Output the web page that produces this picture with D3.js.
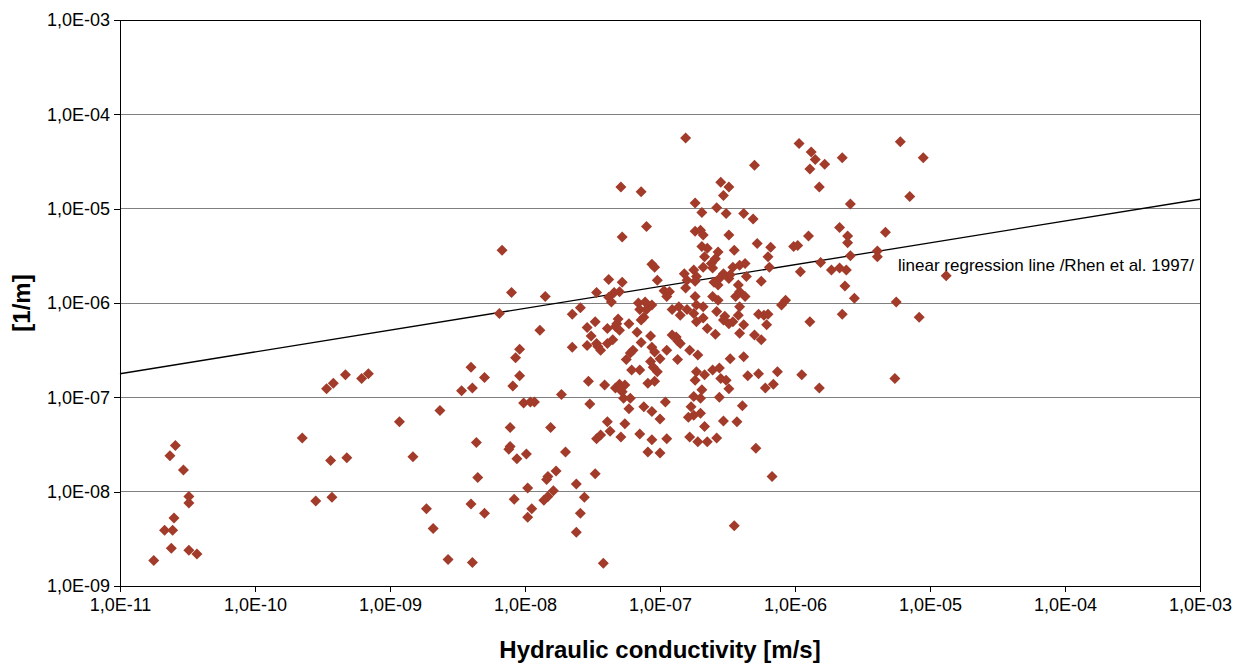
<!DOCTYPE html>
<html>
<head>
<meta charset="utf-8">
<script src="https://cdnjs.cloudflare.com/ajax/libs/d3/7.8.5/d3.min.js"></script>
<style>
  body { margin: 0; background: #fff; }
  svg { font-family: "Liberation Sans", Arial, sans-serif; }
  .axis path, .axis line { stroke: #000; shape-rendering: crispEdges; }
  .axis text { font-size: 18px; fill: #000; }
</style>
</head>
<body>
<svg id="chart"></svg>
<script>
// log10 of hydraulic conductivity [m/s]
const logK = [
  -10.59,-10.63,-10.53,-10.49,-10.49,-10.60,-10.67,-10.61,-10.62,-10.49,-10.43,-10.75,
  -9.65,-9.47,-9.42,-9.33,-9.21,-9.16,-8.40,-8.47,-8.39,-8.63,-8.93,-9.44,-9.32,-8.83,
  -8.36,-8.35,-9.55,-9.43,-8.73,-8.68,-8.40,-8.57,-8.39,
  -8.17,-8.10,-7.85,-7.47,-8.19,-7.65,-7.59,-7.48,-7.54,-7.89,-7.51,-8.04,-8.07,-7.65,
  -7.54,-7.47,-8.30,-8.04,-8.09,-7.73,-7.53,-8.01,-7.96,-7.93,-7.52,
  -8.11,-7.81,-8.11,-8.12,-8.06,-7.99,-7.70,-7.47,-7.83,-7.84,-7.77,-7.48,-7.98,-7.79,
  -7.86,-7.83,-7.62,-7.56,-8.08,-8.30,-7.95,-7.98,-7.59,-7.62,-7.42,
  -6.81,-7.29,-7.14,-6.74,-7.10,-7.28,-7.06,-7.04,-7.02,-7.38,-7.28,-7.34,-7.30,-7.38,
  -7.36,-6.97,-6.93,-6.95,-6.82,-6.80,-6.81,-6.74,-7.16,-7.11,-7.06,-7.15,-7.10,-7.12,
  -6.91,-6.86,-6.80,-6.85,-6.75,-7.31,
  -7.39,-7.32,-7.30,-7.33,-7.23,-7.17,-7.14,-7.46,-7.44,-7.39,-7.35,-7.14,-7.07,-7.20,
  -7.22,-7.25,-7.06,-7.04,-7.00,-6.95,-6.91,-6.88,-6.85,-6.87,-6.78,-6.87,-6.72,-7.07,
  -7.05,-7.02,-7.21,-7.15,-7.09,-7.04,-7.41,-7.33,-7.30,-7.28,-7.26,-7.27,-7.22,-7.23,
  -7.12,-7.06,-6.96,-7.00,-6.77,-6.75,-6.79,-7.39,-7.26,-7.37,-7.44,-7.29,-7.15,-7.06,
  -6.95,-7.09,-7.00,-6.78,-6.72,
  -6.30,-6.55,-6.49,-6.53,-6.69,-6.58,-6.51,-6.38,-6.31,-6.74,-6.70,-6.68,-6.49,-6.28,
  -6.18,-6.69,-6.65,-6.67,-6.57,-6.59,-6.45,-6.20,-6.19,-6.75,-6.73,-6.74,-6.68,-6.62,
  -6.61,-6.53,-6.49,-6.56,-6.46,-6.41,-6.37,-6.48,-6.57,-6.60,-6.42,-6.36,-6.25,-6.41,
  -6.37,-6.44,-6.61,-6.57,-6.73,-6.68,-6.58,-6.52,-6.41,-6.42,-6.27,-6.23,-6.20,-6.10,
  -6.07,
  -6.73,-6.68,-6.65,-6.59,-6.53,-6.49,-6.46,-6.38,-6.41,-6.21,-6.30,-6.25,-6.48,-6.38,
  -6.73,-6.74,-6.69,-6.67,-6.75,-6.70,-6.61,-6.56,-6.55,-6.51,-6.49,-6.35,-6.27,-6.13,
  -6.22,-6.16,-6.56,-6.39,-6.70,-6.53,-6.43,-6.67,-6.65,-6.58,-6.29,-6.17,-6.45,
  -5.97,-5.88,-5.85,-5.89,-5.78,-5.65,-5.82,-5.22,-5.05,-5.15,-5.59,-5.67,-5.61,-5.61,
  -5.90,-5.33,-6.01,-5.98,-5.39,-5.39,-5.59,-5.81,-5.96,-5.73,-5.67,-5.62,-5.63,-4.88,
  -5.56,-5.25,-5.89,-5.65,-5.08,-5.95,-5.82,-5.26
]

// log10 of the y value [1/m], same order as logK
const logB = [
  -7.51,-7.62,-7.77,-8.05,-8.12,-8.28,-8.41,-8.41,-8.60,-8.62,-8.66,-8.73,
  -7.43,-6.91,-6.85,-6.76,-6.80,-6.75,-6.68,-6.93,-6.90,-7.14,-7.26,-7.67,-7.64,-7.63,
  -7.48,-7.85,-8.10,-8.06,-8.18,-8.39,-8.13,-8.72,-8.75,
  -5.44,-5.89,-5.93,-5.89,-6.11,-6.12,-6.05,-6.20,-6.26,-6.29,-6.35,-6.49,-6.58,-6.47,
  -6.45,-6.43,-6.79,-6.77,-6.88,-6.97,-6.83,-7.06,-7.05,-7.05,-7.07,
  -7.32,-7.32,-7.52,-7.55,-7.65,-7.60,-7.58,-7.44,-7.84,-7.87,-7.78,-7.81,-7.96,-7.99,
  -8.09,-8.05,-7.92,-8.06,-8.08,-8.23,-8.18,-8.27,-8.23,-8.43,-8.76,
  -4.25,-4.77,-4.82,-4.94,-5.19,-5.30,-5.59,-5.62,-5.76,-5.75,-5.78,-5.89,-5.88,-5.94,
  -5.99,-5.87,-5.88,-5.93,-5.69,-5.76,-5.84,-5.93,-6.00,-5.99,-6.02,-6.07,-6.07,-6.15,
  -6.07,-6.04,-6.07,-6.13,-6.11,-6.17,
  -6.27,-6.22,-6.29,-6.25,-6.22,-6.31,-6.18,-6.46,-6.50,-6.43,-6.39,-6.42,-6.35,-6.50,
  -6.53,-6.60,-6.47,-6.52,-6.59,-6.50,-6.34,-6.36,-6.43,-6.40,-6.50,-6.60,-6.55,-6.62,
  -6.68,-6.73,-6.71,-6.71,-6.85,-6.83,-6.87,-6.90,-6.86,-6.94,-6.87,-7.01,-7.01,-7.12,
  -7.10,-7.15,-7.05,-7.23,-7.10,-7.19,-7.21,-7.26,-7.28,-7.36,-7.40,-7.42,-7.39,-7.45,
  -7.44,-7.58,-7.59,-7.42,-7.47,
  -4.54,-4.72,-4.77,-4.86,-5.04,-4.99,-5.05,-5.05,-5.11,-5.24,-5.23,-5.28,-5.28,-5.37,
  -5.41,-5.40,-5.42,-5.51,-5.46,-5.53,-5.44,-5.51,-5.62,-5.65,-5.72,-5.77,-5.62,-5.58,
  -5.63,-5.69,-5.74,-5.74,-5.62,-5.60,-5.58,-5.70,-5.81,-5.78,-5.81,-5.72,-5.77,-5.88,
  -5.93,-5.93,-5.93,-5.97,-6.02,-6.04,-6.09,-6.14,-6.04,-6.13,-6.12,-6.13,-6.12,-6.02,
  -5.97,
  -6.20,-6.16,-6.27,-6.33,-6.18,-6.22,-6.20,-6.23,-6.32,-6.23,-6.34,-6.39,-6.59,-6.57,
  -6.73,-6.82,-6.92,-6.76,-6.99,-7.01,-6.71,-6.69,-6.80,-6.82,-6.91,-6.77,-6.75,-6.73,
  -6.90,-6.86,-7.00,-7.09,-7.17,-7.25,-7.26,-7.31,-7.47,-7.43,-7.54,-7.84,-8.36,
  -4.31,-4.40,-4.48,-4.58,-4.53,-4.46,-4.77,-4.29,-4.46,-4.87,-4.95,-5.20,-5.29,-5.36,
  -5.29,-5.25,-5.40,-5.39,-5.45,-5.51,-5.50,-5.57,-5.67,-5.65,-5.63,-5.65,-5.82,-5.71,
  -5.95,-5.99,-6.20,-6.12,-6.15,-6.76,-6.90,-6.80
]

// regression line end points (log10 values)
const regLogK = [-11, -3]
const regLogB = [-6.75, -4.90]

const xTickValues = [1e-11, 1e-10, 1e-9, 1e-8, 1e-7, 1e-6, 1e-5, 1e-4, 1e-3]
const yTickValues = [1e-9, 1e-8, 1e-7, 1e-6, 1e-5, 1e-4, 1e-3]

const points = logK.map((k, i) => ({ k: Math.pow(10, k), b: Math.pow(10, logB[i]) }))

const margin = { top: 20, right: 51, bottom: 78, left: 120 }
const w = 1251 - margin.left - margin.right
const h = 664 - margin.top - margin.bottom

const root = d3.select("#chart")
  .attr("width", w + margin.left + margin.right)
  .attr("height", h + margin.top + margin.bottom)

const svg = root.append("g")
  .attr("transform", "translate(" + margin.left + "," + margin.top + ")")

const xScale = d3.scaleLog().domain([1e-11, 1e-3]).range([0, w])
const yScale = d3.scaleLog().domain([1e-9, 1e-3]).range([h, 0])

// "1,0E-05" style labels
const sciFormat = (d) => {
  const e = Math.round(Math.log10(d))
  return "1,0E" + (e < 0 ? "-" : "+") + String(Math.abs(e)).padStart(2, "0")
}

// horizontal gridlines
svg.append("g")
  .attr("class", "grid")
  .selectAll("line")
  .data(yTickValues)
  .enter()
  .append("line")
  .attr("x1", 0).attr("x2", w)
  .attr("y1", d => yScale(d)).attr("y2", d => yScale(d))
  .attr("stroke", "#808080")
  .attr("shape-rendering", "crispEdges")

// plot border
svg.append("rect")
  .attr("width", w).attr("height", h)
  .attr("fill", "none")
  .attr("stroke", "#000")
  .attr("shape-rendering", "crispEdges")

const gX = svg.append("g")
  .attr("class", "axis x-axis")
  .attr("transform", "translate(0," + h + ")")
  .call(d3.axisBottom(xScale).tickValues(xTickValues).tickFormat(sciFormat).tickSize(6).tickPadding(6))

const gY = svg.append("g")
  .attr("class", "axis y-axis")
  .call(d3.axisLeft(yScale).tickValues(yTickValues).tickFormat(sciFormat).tickSize(6).tickPadding(4))

// regression line
svg.append("line")
  .attr("x1", xScale(Math.pow(10, regLogK[0])))
  .attr("y1", yScale(Math.pow(10, regLogB[0])))
  .attr("x2", xScale(Math.pow(10, regLogK[1])))
  .attr("y2", yScale(Math.pow(10, regLogB[1])))
  .attr("stroke", "#000")
  .attr("stroke-width", 1.3)

// diamonds
const r = 5.5
svg.append("g")
  .attr("class", "points")
  .selectAll("path")
  .data(points)
  .enter()
  .append("path")
  .attr("d", `M0,${-r}L${r},0L0,${r}L${-r},0Z`)
  .attr("transform", d => "translate(" + xScale(d.k) + "," + yScale(d.b) + ")")
  .attr("fill", "#a23b2a")

svg.append("text")
  .attr("x", xScale(5.8e-6))
  .attr("y", yScale(2.2e-6))
  .attr("font-size", 17)
  .text("linear regression line /Rhen et al. 1997/")

// axis titles
root.append("text")
  .attr("x", margin.left + w / 2)
  .attr("y", 658)
  .attr("text-anchor", "middle")
  .attr("font-size", 24)
  .attr("font-weight", "bold")
  .text("Hydraulic conductivity [m/s]")

root.append("text")
  .attr("transform", "translate(30," + (margin.top + h / 2) + ") rotate(-90)")
  .attr("text-anchor", "middle")
  .attr("font-size", 24)
  .attr("font-weight", "bold")
  .text("[1/m]")
</script>
</body>
</html>
